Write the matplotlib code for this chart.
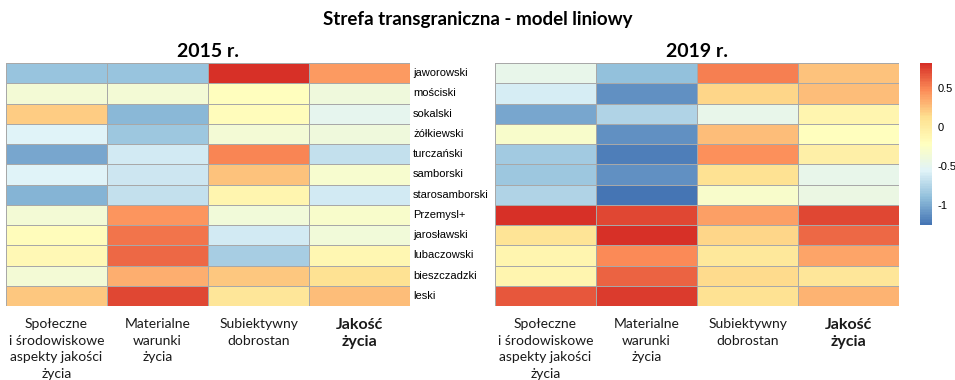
import numpy as np
import matplotlib
matplotlib.use('Agg')
import matplotlib.pyplot as plt
from matplotlib.colors import LinearSegmentedColormap

# powiaty (rows) and dimensions (columns)
districts = ['jaworowski', 'mościski', 'sokalski', 'żółkiewski', 'turczański',
             'samborski', 'starosamborski', 'Przemysl+', 'jarosławski',
             'lubaczowski', 'bieszczadzki', 'leski']
dimensions = ['Społeczne\ni środowiskowe\naspekty jakości\nżycia',
              'Materialne\nwarunki\nżycia',
              'Subiektywny\ndobrostan',
              'Jakość\nżycia']
years = ['2015 r.', '2019 r.']

values_2015 = [
    [-0.88, -0.88, 0.82, 0.42],
    [-0.35, -0.35, -0.20, -0.40],
    [0.20, -0.93, -0.18, -0.50],
    [-0.57, -0.85, -0.35, -0.40],
    [-1.02, -0.62, 0.50, -0.68],
    [-0.57, -0.64, 0.25, -0.32],
    [-0.95, -0.68, -0.10, -0.63],
    [-0.35, 0.43, -0.38, -0.30],
    [-0.18, 0.56, -0.62, -0.38],
    [-0.15, 0.60, -0.82, -0.13],
    [-0.35, 0.33, 0.22, 0.10],
    [0.22, 0.73, 0.07, 0.27],
]
values_2019 = [
    [-0.48, -0.90, 0.52, 0.25],
    [-0.60, -1.12, 0.16, 0.26],
    [-1.02, -0.78, -0.47, -0.10],
    [-0.30, -1.13, 0.26, -0.20],
    [-0.83, -1.20, 0.45, -0.05],
    [-0.86, -1.12, 0.10, -0.47],
    [-0.78, -1.26, -0.30, -0.43],
    [0.80, 0.72, 0.40, 0.72],
    [0.08, 0.82, 0.16, 0.60],
    [-0.10, 0.47, 0.05, 0.37],
    [-0.10, 0.62, 0.14, 0.07],
    [0.66, 0.77, 0.10, 0.30],
]

# reversed 7-class RdYlBu, stretched linearly between data min and max
cmap = LinearSegmentedColormap.from_list(
    'rdylbu7', ['#4575B4', '#91BFDB', '#E0F3F8', '#FFFFBF',
                '#FEE090', '#FC8D59', '#D73027'], N=100)

data = [np.array(values_2015), np.array(values_2019)]
vmin = min(d.min() for d in data)
vmax = max(d.max() for d in data)

plt.rcParams['font.family'] = ['Lato', 'DejaVu Sans']

fig = plt.figure(figsize=(9.55, 3.8), dpi=100)
fig.text(0.5, 0.948, 'Strefa transgraniczna - model liniowy',
         ha='center', va='center', fontsize=13.5, fontweight='bold')

W, H = 955.0, 380.0
panels = [(6, 63, 404, 243), (495, 63, 404, 243)]

for (x0, y0, w, h), mat, year in zip(panels, data, years):
    ax = fig.add_axes([x0 / W, 1 - (y0 + h) / H, w / W, h / H])
    mesh = ax.pcolormesh(mat, cmap=cmap, vmin=vmin, vmax=vmax,
                         edgecolors='#A8A8A8', linewidth=0.6)
    ax.set_xlim(0, mat.shape[1])
    ax.set_ylim(mat.shape[0], 0)
    for s in ax.spines.values():
        s.set_visible(False)
    ax.set_xticks([])
    ax.set_yticks([])
    ax.set_title(year, fontsize=14, fontweight='bold', pad=4)

    # dimension labels under the columns
    for j, lab in enumerate(dimensions):
        bold = j == len(dimensions) - 1
        ax.text(j + 0.5, mat.shape[0] + 0.6, lab, ha='center', va='top',
                fontsize=11.5 if bold else 10,
                fontweight='bold' if bold else 'normal',
                linespacing=1.45 if not bold else 1.3, color='#1a1a1a')

    # district names only next to the first panel
    if year == years[0]:
        for i, name in enumerate(districts):
            ax.text(mat.shape[1] + 0.03, i + 0.5, name, ha='left', va='center',
                    fontsize=8, family='Liberation Sans')

cax = fig.add_axes([920 / W, 1 - 225 / H, 12 / W, 162 / H])
cb = fig.colorbar(mesh, cax=cax, ticks=[0.5, 0, -0.5, -1])
cb.outline.set_visible(False)
cb.ax.tick_params(length=0, labelsize=8, pad=4)
cb.ax.set_yticklabels(['0.5', '0', '-0.5', '-1'], family='Liberation Sans')

fig.savefig('out.png', dpi=100)
